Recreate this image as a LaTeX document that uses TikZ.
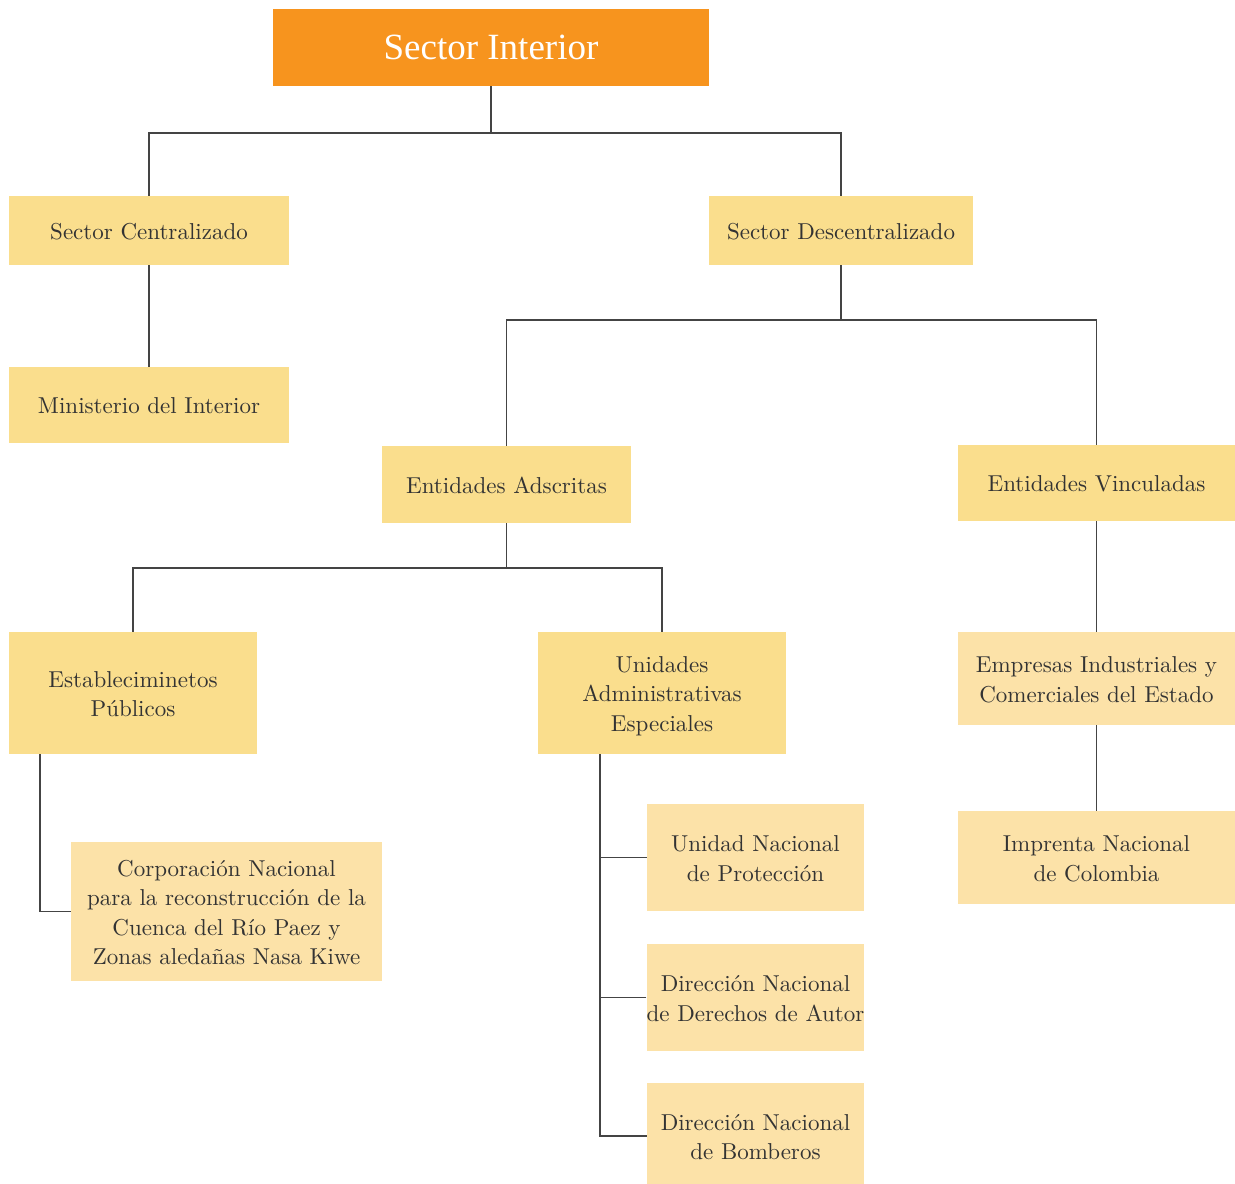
\documentclass[tikz,border=0pt]{standalone}
\usepackage{fontspec}
\newfontfamily\titlefont{Liberation Serif}
\newfontfamily\boxfont{lmroman10-regular}[Extension=.otf]
\usetikzlibrary{calc}
\definecolor{orangeT}{HTML}{F7941E}
\definecolor{yelA}{HTML}{FADE8D}
\definecolor{yelB}{HTML}{FCE2A8}
\definecolor{txt}{HTML}{333333}
\definecolor{ln}{HTML}{444444}
\newcommand{\bx}[1]{\raisebox{-3pt}[\height][\depth]{\begin{tabular}{@{}c@{}}#1\end{tabular}}}
\tikzset{
  box/.style={rectangle, inner sep=0pt, text=txt,
    font=\boxfont\fontsize{23}{29.5}\selectfont, fill=yelA},
  boxl/.style={box, fill=yelB},
  conn/.style={draw=ln, line width=1.6pt},
}
\begin{document}
\begin{tikzpicture}[x=1pt,y=-1pt]
\useasboundingbox (0,0) rectangle (1235,1184);
\fill[white] (0,0) rectangle (1235,1184);
\node[rectangle, fill=orangeT, text=white, font=\titlefont\fontsize{37}{40}\selectfont,
  minimum width=436pt, minimum height=77pt, inner sep=0pt] (title) at (491,47.5) {Sector Interior};
\node[box, minimum width=280pt, minimum height=69pt] (cent) at (149,230.5) {\bx{Sector Centralizado}};
\node[box, minimum width=264pt, minimum height=69pt] (desc) at (841,230.5) {\bx{Sector Descentralizado}};
\node[box, minimum width=280pt, minimum height=76pt] (min) at (149,405) {\bx{Ministerio del Interior}};
\node[box, minimum width=249pt, minimum height=77pt] (adsc) at (506.5,484.5) {\bx{Entidades Adscritas}};
\node[box, minimum width=277pt, minimum height=76pt] (vinc) at (1096.5,483) {\bx{Entidades Vinculadas}};
\node[box, minimum width=248pt, minimum height=122pt] (estab) at (133,693) {\bx{Estableciminetos\\Públicos}};
\node[box, minimum width=248pt, minimum height=122pt] (unid) at (662,693) {\bx{Unidades\\Administrativas\\Especiales}};
\node[boxl, minimum width=277pt, minimum height=93pt] (empr) at (1096.5,678.5) {\bx{Empresas Industriales y\\Comerciales del Estado}};
\node[boxl, minimum width=277pt, minimum height=93pt] (impr) at (1096.5,857.5) {\bx{Imprenta Nacional\\de Colombia}};
\node[boxl, minimum width=311pt, minimum height=139pt] (corp) at (226.5,911.5) {\bx{Corporación Nacional\\para la reconstrucción de la\\Cuenca del Río Paez y\\Zonas aledañas Nasa Kiwe}};
\node[boxl, minimum width=217pt, minimum height=107pt] (unp) at (755.5,857.5) {\bx{Unidad Nacional\\de Protección}};
\node[boxl, minimum width=217pt, minimum height=107pt] (dnda) at (755.5,997.5) {\bx{Dirección Nacional\\de Derechos de Autor}};
\node[boxl, minimum width=217pt, minimum height=107pt] (bomb) at (755.5,1136) {\bx{Dirección Nacional\\de Bomberos}};
% connectors
\coordinate (j1) at (491,133);
\draw[conn] (title.south) -- (j1);
\draw[conn] (j1) -| (cent.north);
\draw[conn] (j1) -| (desc.north);
\draw[conn] (cent.south) -- (min.north);
\coordinate (j2) at (841,320);
\draw[conn] (desc.south) -- (j2);
\draw[conn] (j2) -| (adsc.north);
\draw[conn] (j2) -| (vinc.north);
\coordinate (j3) at (506.5,568);
\draw[conn] (adsc.south) -- (j3);
\draw[conn] (j3) -| (estab.north);
\draw[conn] (j3) -| (unid.north);
\draw[conn] (vinc.south) -- (empr.north);
\draw[conn] (empr.south) -- (impr.north);
\coordinate (e0) at ($(estab.south west)+(31,0)$);
\draw[conn] (e0) |- (corp.west);
\coordinate (u0) at ($(unid.south west)+(62,0)$);
\draw[conn] (u0) |- (bomb.west);
\draw[conn] (unp.west) -| (u0);
\draw[conn] (dnda.west) -| (u0);
\end{tikzpicture}
\end{document}
